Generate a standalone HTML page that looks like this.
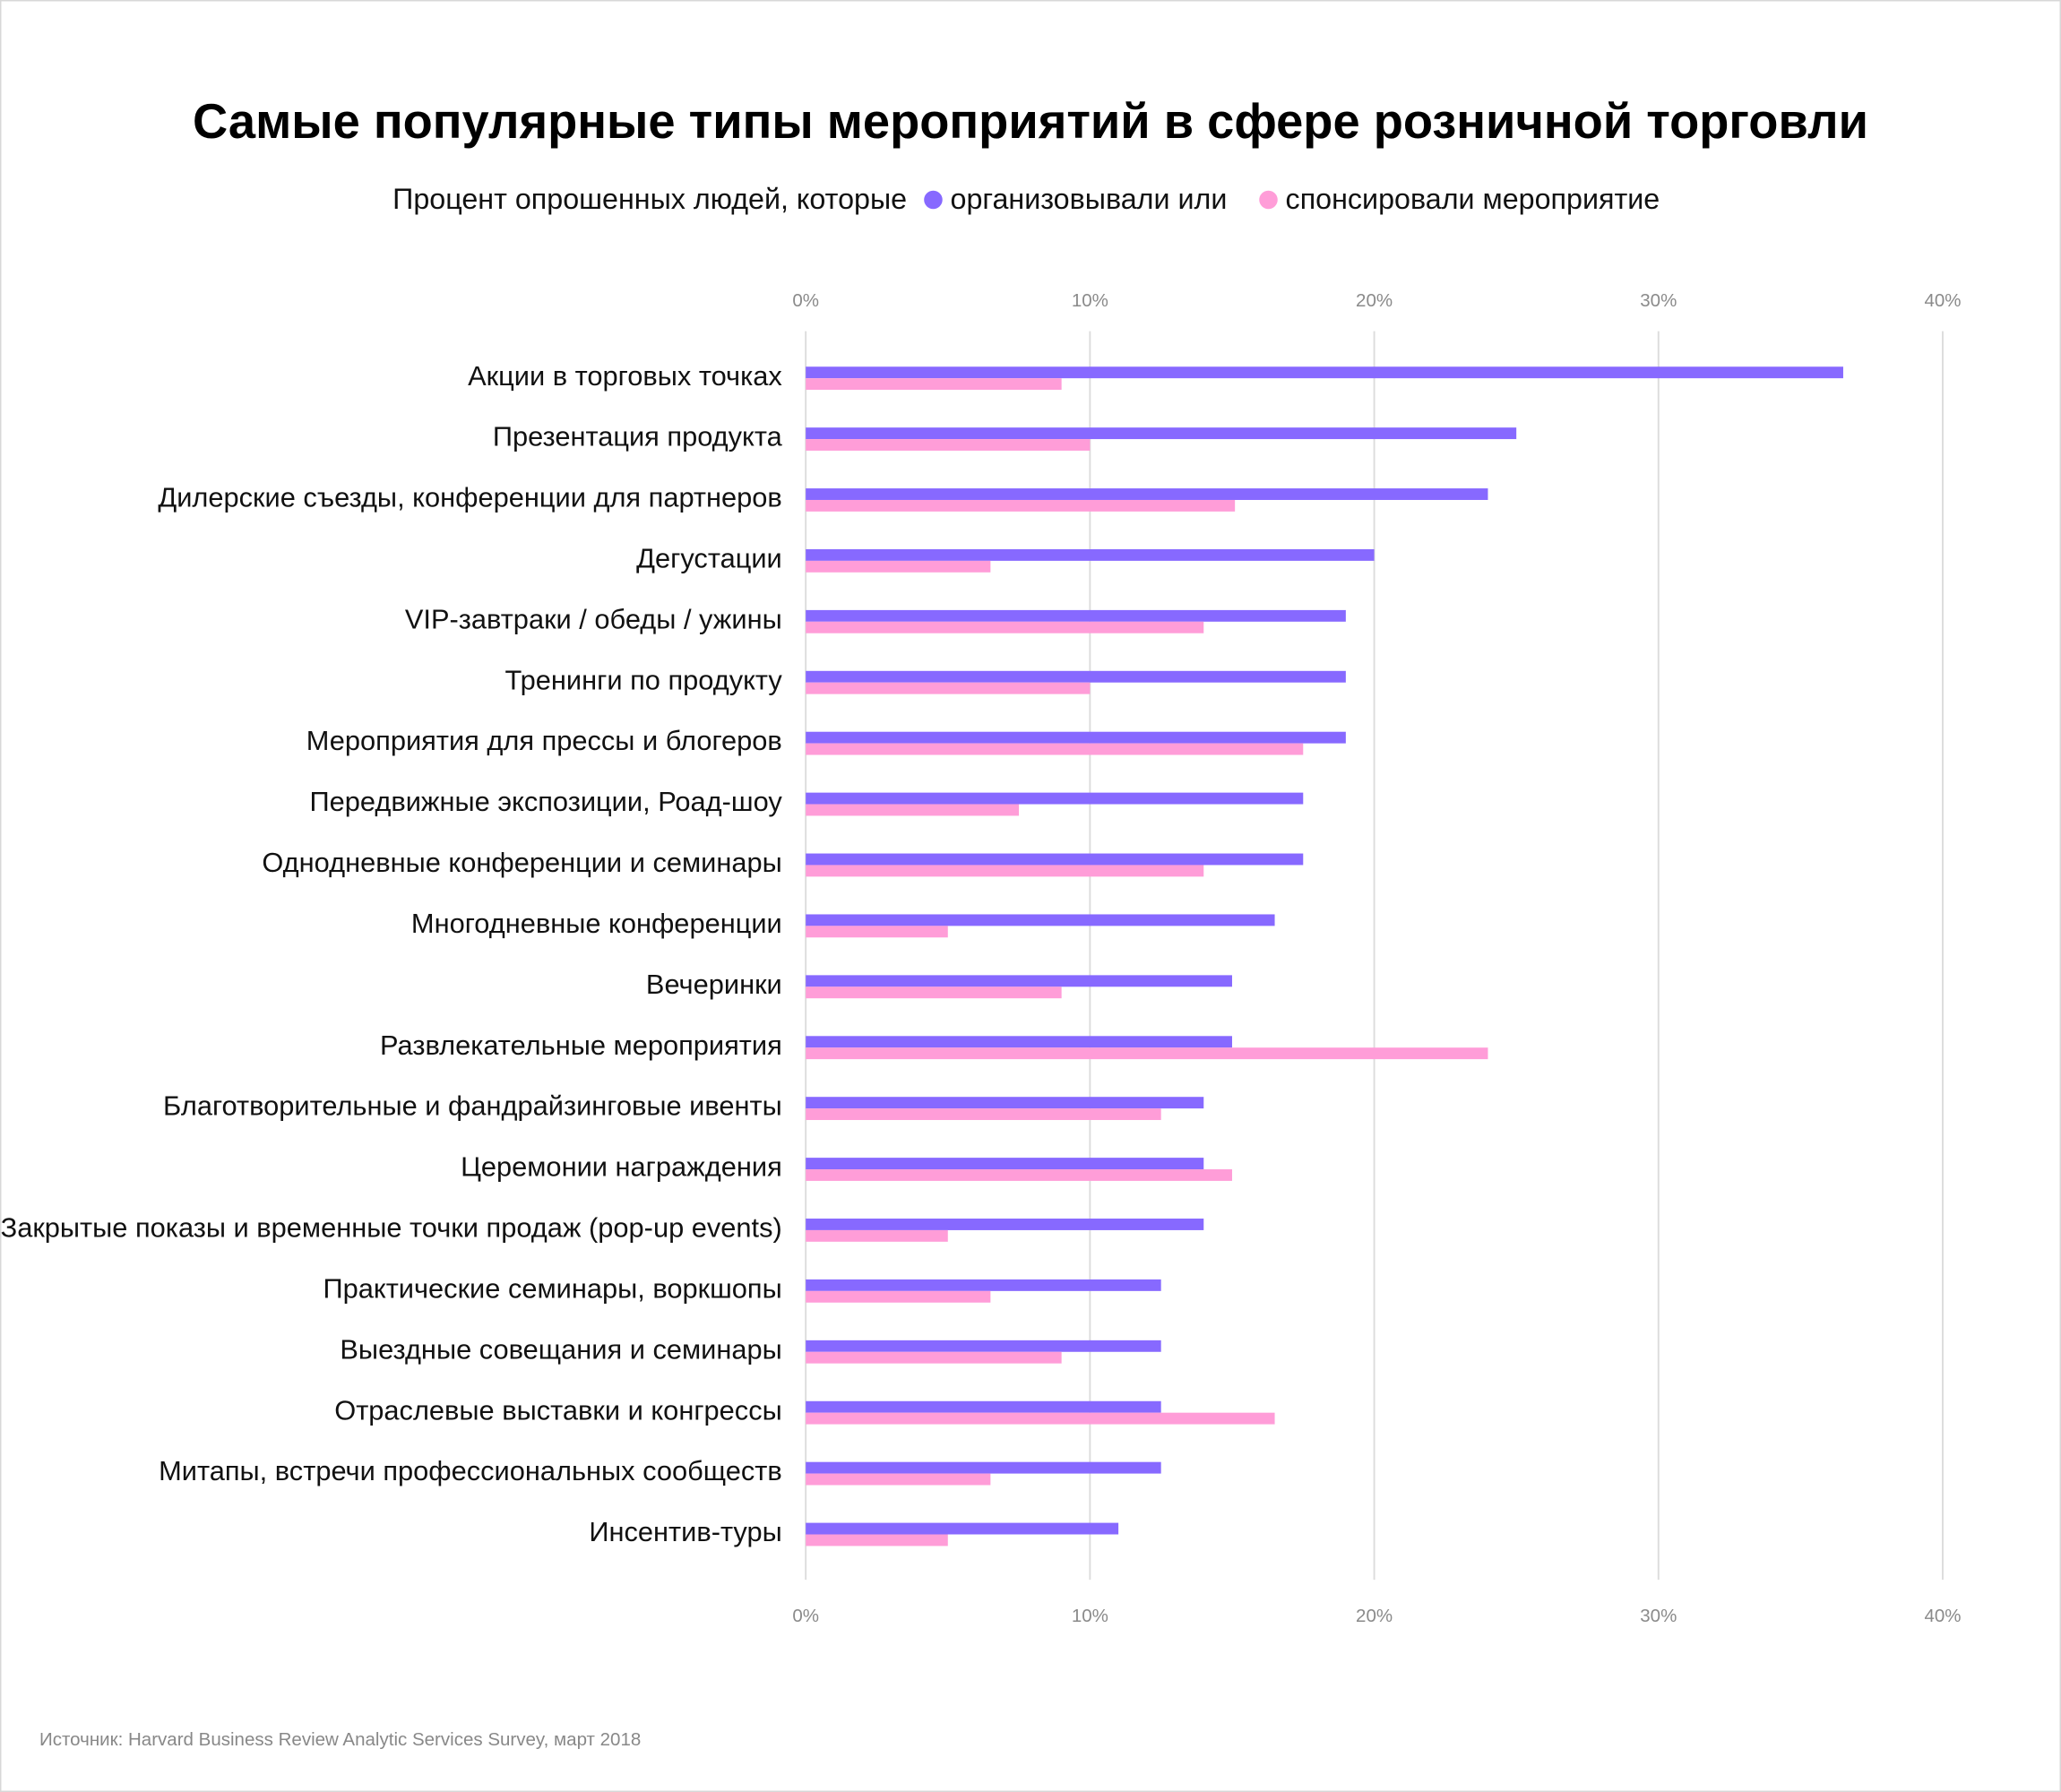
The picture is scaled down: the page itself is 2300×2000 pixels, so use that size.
<!DOCTYPE html>
<html><head><meta charset="utf-8"><style>
html,body{margin:0;padding:0;background:#fff}
svg{display:block}
text{font-family:"Liberation Sans Narrow","Liberation Sans",sans-serif}
</style></head><body>
<svg id="chart" width="2300" height="2000" viewBox="0 0 1568 1363.5" preserveAspectRatio="none" xmlns="http://www.w3.org/2000/svg">
<rect x="0.5" y="0.5" width="1567" height="1362.5" fill="#fff" stroke="#d8d8d8"/>
<text x="784" y="105" text-anchor="middle" font-size="37" font-weight="bold" style="font-family:'Liberation Sans',sans-serif" fill="#000">Самые популярные типы мероприятий в сфере розничной торговли</text>
<g font-size="22" style="font-family:'Liberation Sans',sans-serif">
<text x="690" y="159" text-anchor="end" fill="#111">Процент опрошенных людей, которые</text>
<circle cx="710" cy="152" r="7" fill="#8769ff"/>
<text x="723" y="159" fill="#111">организовывали или</text>
<circle cx="965" cy="152" r="7" fill="#ff9dd8"/>
<text x="978" y="159" fill="#111">спонсировали мероприятие</text>
</g>
<g id="grid"></g><g id="bars"></g><g id="labels"></g>
<text x="30" y="1328" font-size="14" fill="#888">Источник: Harvard Business Review Analytic Services Survey, март 2018</text>
</svg>
<script>
const categories=["Акции в торговых точках","Презентация продукта","Дилерские съезды, конференции для партнеров","Дегустации","VIP-завтраки / обеды / ужины","Тренинги по продукту","Мероприятия для прессы и блогеров","Передвижные экспозиции, Роад-шоу","Однодневные конференции и семинары","Многодневные конференции","Вечеринки","Развлекательные мероприятия","Благотворительные и фандрайзинговые ивенты","Церемонии награждения","Закрытые показы и временные точки продаж (pop-up events)","Практические семинары, воркшопы","Выездные совещания и семинары","Отраслевые выставки и конгрессы","Митапы, встречи профессиональных сообществ","Инсентив-туры"];
const organized=[36.5,25,24,20,19,19,19,17.5,17.5,16.5,15,15,14,14,14,12.5,12.5,12.5,12.5,11];
const sponsored=[9,10,15.1,6.5,14,10,17.5,7.5,14,5,9,24,12.5,15,5,6.5,9,16.5,6.5,5];
const ticks=[0,10,20,30,40];
const tickLabels=["0%","10%","20%","30%","40%"];
const NS="http://www.w3.org/2000/svg";
const x=v=>613+v*(1478-613)/40;
const rowY=i=>288+i*46.3;
function mk(tag,attrs,parent){const e=document.createElementNS(NS,tag);for(const k in attrs)e.setAttribute(k,attrs[k]);document.getElementById(parent).appendChild(e);return e;}
ticks.forEach((t,i)=>{
 const l=mk('line',{x1:x(t),x2:x(t),y1:252,y2:1202,stroke:'#dcdcdc','stroke-width':1.3},'grid');
 
 
 [233,1234].forEach(y=>{const tx=mk('text',{x:x(t),y:y,'text-anchor':'middle','font-size':14,fill:'#8a8a8a'},'grid');tx.textContent=tickLabels[i];
 
 });
});
categories.forEach((c,i)=>{
 const y=rowY(i);
 const a=mk('rect',{x:x(0),y:y-9,width:x(organized[i])-x(0),height:8.8,fill:'#8769ff'},'bars');
 
 
 const b=mk('rect',{x:x(0),y:y-0.2,width:x(sponsored[i])-x(0),height:8.8,fill:'#ff9dd8'},'bars');
 
 
 const t=mk('text',{x:595,y:y+5,'text-anchor':'end','font-size':21,fill:'#111'},'labels');
 t.textContent=c;
 
 
});
</script>
</body></html>
